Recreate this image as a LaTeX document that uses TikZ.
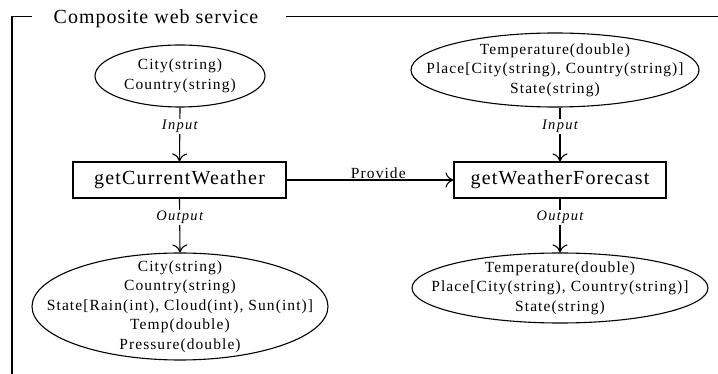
\documentclass[tikz,border=0pt]{standalone}
\usepackage{fontspec}
\setmainfont{Liberation Serif}
\newfontfamily\boxfont[LetterSpace=6]{Liberation Serif}
\newfontfamily\elfont[LetterSpace=7]{Liberation Serif}
\newfontfamily\lblfont[LetterSpace=9]{Liberation Serif}
\newfontfamily\titlefont[LetterSpace=5]{Liberation Serif}
\usetikzlibrary{arrows.meta}
\begin{document}
\begin{tikzpicture}[x=1pt,y=-1pt,
  line width=1.1pt,
  ell/.style={rectangle,inner sep=0pt,align=center,font=\elfont\fontsize{15.5}{19.5}\selectfont},
  opbox/.style={draw,rectangle,inner sep=0pt,minimum width=212pt,minimum height=36pt,font=\boxfont\fontsize{20}{24}\selectfont},
  flow/.style={-{To[length=8pt,width=15pt]}},
  lbl/.style={fill=white,inner sep=1.5pt,font=\lblfont\itshape\fontsize{14.5}{17}\selectfont},
  plbl/.style={inner sep=1pt,font=\elfont\fontsize{15.5}{19}\selectfont}]
\useasboundingbox (0,0) rectangle (718,374);
% frame
\node[anchor=base,inner sep=0pt,font=\titlefont\fontsize{20}{24}\selectfont] (title) at (156,24) {Composite web service};
\coordinate (fbl) at (12,376);
\coordinate (ftl) at (12,16.5);
\coordinate (fa) at (32,16.5);
\coordinate (fb) at (286,16.5);
\coordinate (fr) at (720,16.5);
\draw (fbl) -- (ftl) -- (fa);
\draw (fb) -- (fr);
% ellipse nodes (text boxes sized to the ellipse, outline drawn separately)
\node[ell,minimum width=170pt,minimum height=62pt] (in1) at (180,76) {City(string)\\Country(string)};
\draw (in1.center) ellipse[x radius=85pt,y radius=31pt];
\node[ell,minimum width=288pt,minimum height=74pt] (in2) at (555,70) {Temperature(double)\\Place[City(string), Country(string)]\\State(string)};
\draw (in2.center) ellipse[x radius=144pt,y radius=37pt];
\node[ell,minimum width=296pt,minimum height=107pt] (out1) at (180,306.5) {City(string)\\Country(string)\\State[Rain(int), Cloud(int), Sun(int)]\\Temp(double)\\Pressure(double)};
\draw (out1.center) ellipse[x radius=148pt,y radius=53.5pt];
\node[ell,minimum width=296pt,minimum height=70pt] (out2) at (560,288) {Temperature(double)\\Place[City(string), Country(string)]\\State(string)};
\draw (out2.center) ellipse[x radius=148pt,y radius=35pt];
% boxes
\node[opbox,minimum width=213pt] (b1) at (179.5,180) {getCurrentWeather};
\node[opbox] (b2) at (560,180) {getWeatherForecast};
% connectors
\draw[flow] (in1.south) -- node[lbl,pos=0.35] {Input} (b1.north);
\draw[flow] (in2.south -| b2.north) -- node[lbl,pos=0.35] {Input} (b2.north);
\draw[flow] (b1.south) -- node[lbl,pos=0.35] {Output} (out1.north);
\draw[flow] (b2.south) -- node[lbl,pos=0.35] {Output} (out2.north);
\draw[flow] (b1.east) -- node[plbl,above,pos=0.55] {Provide} (b2.west);
\end{tikzpicture}
\end{document}
